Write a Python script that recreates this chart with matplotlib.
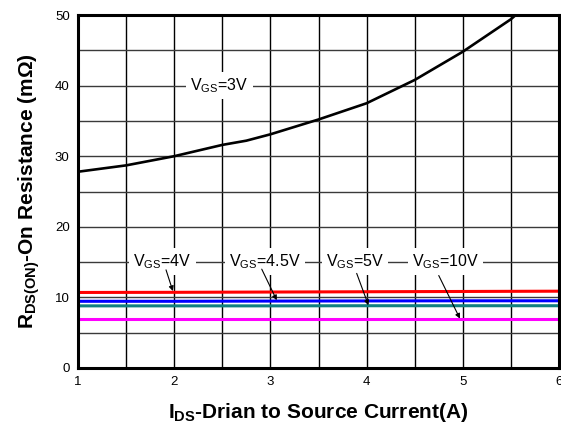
import matplotlib
matplotlib.use("Agg")
import matplotlib.pyplot as plt

plt.rcParams['font.family'] = ['Liberation Sans', 'DejaVu Sans']
plt.rcParams['mathtext.default'] = 'regular'

# VGS=3V curve
x3 = [1.0, 1.5, 2.0, 2.5, 2.75, 3.0, 3.5, 4.0, 4.5, 5.0, 5.5, 5.55]
y3 = [27.8, 28.7, 30.0, 31.6, 32.2, 33.1, 35.2, 37.5, 40.8, 44.8, 49.4, 50.0]

# flat curves
xf = [1, 2, 3, 4, 5, 6]
y4 = [10.7, 10.72, 10.76, 10.8, 10.84, 10.88]
y45 = [9.45, 9.45, 9.48, 9.5, 9.52, 9.52]
y5 = [8.8, 8.8, 8.8, 8.82, 8.82, 8.82]
y10 = [6.9, 6.9, 6.9, 6.9, 6.9, 6.9]

xticks = [1, 2, 3, 4, 5, 6]
yticks = [0, 10, 20, 30, 40, 50]

fig = plt.figure(figsize=(5.61, 4.30), dpi=100)
ax = fig.add_axes([78/561, 62/430, 481/561, 353/430])

ax.set_xlim(1, 6)
ax.set_ylim(0, 50)
ax.set_xticks(xticks)
ax.set_yticks(yticks)
ax.set_xticks([1.5, 2.5, 3.5, 4.5, 5.5], minor=True)
ax.set_yticks([5, 15, 25, 35, 45], minor=True)
ax.grid(True, axis='x', which='both', color='black', linewidth=1.0)
ax.grid(True, axis='y', which='both', color='#3a3a3a', linewidth=1.0)
ax.set_axisbelow(True)
ax.tick_params(which='both', length=0, labelsize=9.5, pad=6)
for s in ax.spines.values():
    s.set_linewidth(2.2)
    s.set_zorder(6)

ax.plot(x3, y3, color='black', linewidth=1.9, zorder=3)
ax.plot(xf, y4, color='#ff0000', linewidth=2.2, zorder=3)
ax.plot(xf, y45, color='#0000ff', linewidth=2.2, zorder=3)
ax.plot(xf, y5, color='#108080', linewidth=2.2, zorder=3)
ax.plot(xf, y10, color='#ff00ff', linewidth=2.2, zorder=3)

bbox = dict(facecolor='white', edgecolor='none', pad=3)
ax.text(2.47, 40, r'V$_{GS}$=3V', fontsize=11.5, ha='center', va='center', bbox=bbox, zorder=4)

labels = [(r'V$_{GS}$=4V', 1.88, (1.915, 13.9), (1.986, 10.9)),
          (r'V$_{GS}$=4.5V', 2.94, (2.91, 14.0), (3.066, 9.6)),
          (r'V$_{GS}$=5V', 3.88, (3.897, 13.4), (4.019, 8.9)),
          (r'V$_{GS}$=10V', 4.82, (4.75, 13.1), (4.97, 7.0))]
for txt, xc, p0, p1 in labels:
    ax.text(xc, 15.1, txt, fontsize=11.5, ha='center', va='center', bbox=bbox, zorder=4)
    ax.annotate('', xy=p1, xytext=p0,
                arrowprops=dict(arrowstyle='-|>', color='black', lw=0.8,
                                mutation_scale=7, shrinkA=0, shrinkB=0), zorder=5)

ax.set_xlabel(r'I$_{DS}$-Drian to Source Current(A)', fontsize=15, fontweight='bold', labelpad=9)
ax.set_ylabel(r'R$_{DS(ON)}$-On Resistance (mΩ)', fontsize=15, fontweight='bold', labelpad=9)

fig.savefig('out.png', dpi=100)
